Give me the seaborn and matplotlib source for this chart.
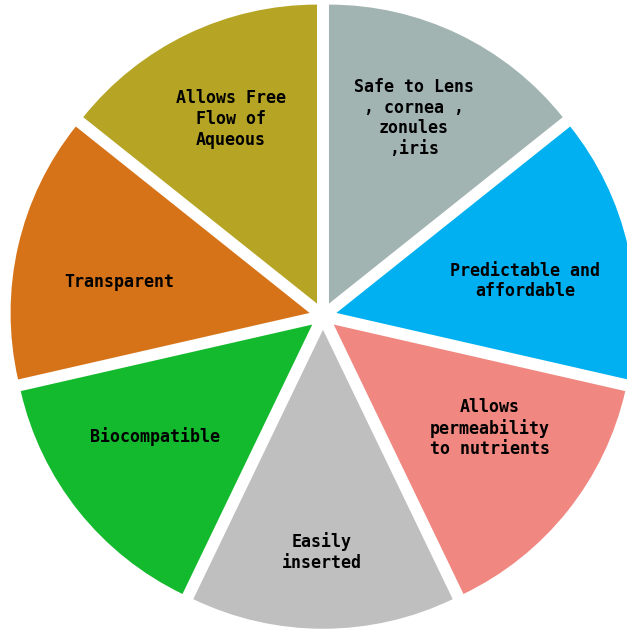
import matplotlib
matplotlib.use("Agg")
import matplotlib.pyplot as plt
import seaborn as sns

# Properties of an ideal capsular tension / lens device, one equal share each
labels = [
    "Safe to Lens\n, cornea ,\nzonules\n,iris",
    "Predictable and\naffordable",
    "Allows\npermeability\nto nutrients",
    "Easily\ninserted",
    "Biocompatible",
    "Transparent",
    "Allows Free\nFlow of\nAqueous",
]
shares = [1, 1, 1, 1, 1, 1, 1]
colors = ["#A2B4B2", "#00B0F0", "#F08780", "#BFBFBF", "#14BA2D", "#D67318", "#B6A424"]

# Label anchor points (pixel-like data units, y measured from the bottom)
label_xy = [(414, 511), (525, 348), (490, 201), (322, 77), (155, 192), (119, 347), (231, 510)]

sns.set_theme(style="white")
plt.rcParams["font.family"] = ["DejaVu Sans Mono", "DejaVu Sans"]

W, H = 627, 629
R = 299
fig = plt.figure(figsize=(W / 100, H / 100), dpi=100)
ax = fig.add_axes([0, 0, 1, 1])

palette = sns.color_palette(colors)
# explode offsets are in data units, so scale them with the radius
ax.pie(
    shares,
    colors=palette,
    startangle=90,
    counterclock=False,
    explode=[0.046 * R] * len(shares),
    center=(323, H - 316),
    radius=R,
    wedgeprops=dict(linewidth=0),
)

for text, (x, y) in zip(labels, label_xy):
    ax.text(x, y, text, ha="center", va="center", fontsize=12,
            fontweight="bold", color="black", linespacing=1.2, multialignment="center")

ax.set_xlim(0, W)
ax.set_ylim(0, H)
ax.set_aspect("equal")
ax.axis("off")

fig.savefig("out.png", dpi=100, facecolor="white")
